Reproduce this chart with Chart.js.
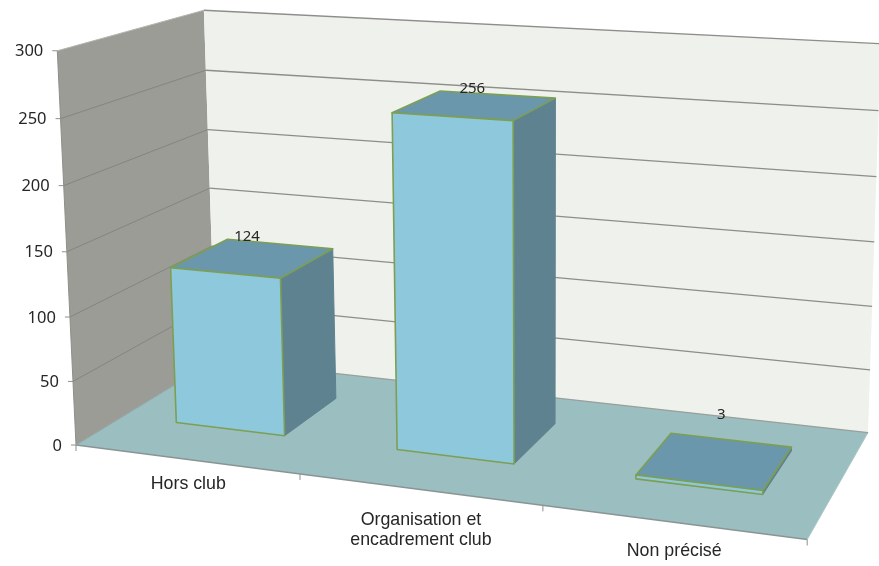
<!DOCTYPE html>
<html><head><meta charset="utf-8">
<style>html,body{margin:0;padding:0;background:#fff}canvas{display:block;filter:blur(0.45px)}</style>
<script src="https://cdn.jsdelivr.net/npm/chart.js@4"></script></head>
<body><canvas id="c" width="879" height="566"></canvas>
<script>
const categories = ["Hors club", ["Organisation et", "encadrement club"], "Non précisé"];
const values = [124, 256, 3];
const yTicks = {min: 0, max: 300, stepSize: 50};

// camera calibration: unit box corner (x, y, z) -> canvas pixel
const cameraWorld = [[0,0,0],[1,0,0],[0,1,0],[0,0,1],[1,0,1],[0,1,1],[1,1,1]];
const cameraImage = [[78,442],[808,541],[54.5,52.5],[213,363],[868,431],[207,8.5],[880,44]];
const barDepth = [0.315, 0.735];
const catLabelDx = [2.5, 2, 2], catLabelDy = [16, 22, 20];
const valLabelDx = [-6, -3, 6], valLabelDy = [-21, -17, -46];

const colors = {leftWall:'#9c9c96', backWall:'#eff1ec', floor:'#9bbfc0', grid:'#8d8d8a', gridLeft:'#858580',
  edge:'#8a9494', front:'#8ec8dc', side:'#5f8290', top:'#6a97ab', border:'#7d9f52', text:'#262626', tick:'#909090'};

function solve(A, b) {
  const n = b.length, M = A.map((r, i) => [...r, b[i]]);
  for (let i = 0; i < n; i++) {
    let p = i;
    for (let k = i + 1; k < n; k++) if (Math.abs(M[k][i]) > Math.abs(M[p][i])) p = k;
    [M[i], M[p]] = [M[p], M[i]];
    for (let k = i + 1; k < n; k++) {
      const f = M[k][i] / M[i][i];
      for (let j = i; j <= n; j++) M[k][j] -= f * M[i][j];
    }
  }
  const x = new Array(n);
  for (let i = n - 1; i >= 0; i--) {
    let s = M[i][n];
    for (let j = i + 1; j < n; j++) s -= M[i][j] * x[j];
    x[i] = s / M[i][i];
  }
  return x;
}
function fitCamera() {
  const rows = [], rhs = [];
  cameraWorld.forEach(([X, Y, Z], i) => {
    const u = cameraImage[i][0] / 1000, v = cameraImage[i][1] / 1000;
    rows.push([X,Y,Z,1,0,0,0,0,-u*X,-u*Y,-u*Z]); rhs.push(u);
    rows.push([0,0,0,0,X,Y,Z,1,-v*X,-v*Y,-v*Z]); rhs.push(v);
  });
  const n = 11, A = [], b = [];
  for (let i = 0; i < n; i++) {
    A.push([]);
    for (let j = 0; j < n; j++) A[i].push(rows.reduce((s, r) => s + r[i] * r[j], 0));
    b.push(rows.reduce((s, r, k) => s + r[i] * rhs[k], 0));
  }
  return solve(A, b);
}
const P = fitCamera();
function project(X, Y, Z) {
  const w = P[8]*X + P[9]*Y + P[10]*Z + 1;
  return [1000*(P[0]*X + P[1]*Y + P[2]*Z + P[3]) / w, 1000*(P[4]*X + P[5]*Y + P[6]*Z + P[7]) / w];
}
function poly(ctx, pts, fill, stroke, lw) {
  ctx.beginPath();
  pts.forEach((p, i) => { const q = project(...p); i ? ctx.lineTo(q[0], q[1]) : ctx.moveTo(q[0], q[1]); });
  ctx.closePath();
  if (fill) { ctx.fillStyle = fill; ctx.fill(); }
  if (stroke) { ctx.strokeStyle = stroke; ctx.lineWidth = lw; ctx.lineJoin = 'round'; ctx.stroke(); }
}
function line(ctx, a, b, color, lw) {
  const p = project(...a), q = project(...b);
  ctx.beginPath(); ctx.moveTo(p[0], p[1]); ctx.lineTo(q[0], q[1]);
  ctx.strokeStyle = color; ctx.lineWidth = lw; ctx.stroke();
}

const box3d = {
  id: 'box3d',
  beforeDatasetsDraw(chart) {
    const ctx = chart.ctx, yS = chart.scales.y, a = chart.chartArea;
    const yn = v => (yS.getPixelForValue(0) - yS.getPixelForValue(v)) / a.height;
    ctx.save();
    ctx.fillStyle = '#fff'; ctx.fillRect(0, 0, chart.width, chart.height);
    poly(ctx, [[0,0,0],[0,1,0],[0,1,1],[0,0,1]], colors.leftWall);
    poly(ctx, [[0,0,1],[0,1,1],[1,1,1],[1,0,1]], colors.backWall);
    poly(ctx, [[0,0,0],[1,0,0],[1,0,1],[0,0,1]], colors.floor);
    yS.ticks.forEach(t => {
      const y = yn(t.value);
      if (t.value > 0) {
        line(ctx, [0,y,0], [0,y,1], t.value === yS.max ? '#b5b5b0' : colors.gridLeft, 1);
        line(ctx, [0,y,1], [1,y,1], colors.grid, 1.3);
      }
      const p = project(0, y, 0);
      ctx.strokeStyle = colors.tick; ctx.lineWidth = 1;
      ctx.beginPath(); ctx.moveTo(p[0] - 5, p[1]); ctx.lineTo(p[0], p[1]); ctx.stroke();
      ctx.fillStyle = colors.text; ctx.font = '16.5px "Noto Sans"';
      ctx.textAlign = 'right'; ctx.textBaseline = 'middle';
      ctx.fillText(t.label, p[0] - 14, p[1] + 1);
    });
    line(ctx, [0,0,0], [0,1,0], '#8f8f8a', 1);
    line(ctx, [0,0,0], [1,0,0], colors.edge, 1.5);
    line(ctx, [0,0,0], [0,0,1], '#8fa5a5', 1);
    line(ctx, [1,0,0], [1,0,1], '#a9c6c6', 1);
    line(ctx, [0,0,1], [1,0,1], '#9a9f9d', 1.2);
    ctx.restore();
  },
  beforeDatasetDraw() { return false; },
  afterDatasetsDraw(chart) {
    const ctx = chart.ctx, a = chart.chartArea, xS = chart.scales.x, yS = chart.scales.y;
    const base = yS.getPixelForValue(0);
    const [z0, z1] = barDepth;
    const xn = px => (px - a.left) / a.width;
    ctx.save();
    xS.ticks.forEach((t, i) => {
      const X0 = xn(xS.getPixelForTick(i));
      const p = project(X0, 0, 0);
      ctx.fillStyle = colors.text; ctx.font = '17.8px "Liberation Sans"';
      ctx.textAlign = 'center'; ctx.textBaseline = 'top';
      [].concat(t.label).forEach((s, k) => ctx.fillText(s, p[0] + catLabelDx[i], p[1] + catLabelDy[i] + k * 19.5));
    });
    for (let k = 0; k <= xS.ticks.length; k++) {
      const p = project(k / xS.ticks.length, 0, 0);
      ctx.strokeStyle = colors.tick; ctx.lineWidth = 1;
      ctx.beginPath(); ctx.moveTo(p[0], p[1]); ctx.lineTo(p[0], p[1] + 6); ctx.stroke();
    }
    const meta = chart.getDatasetMeta(0);
    meta.data.forEach((bar, i) => {
      const x0 = xn(bar.x - bar.width / 2), x1 = xn(bar.x + bar.width / 2);
      const y = (base - bar.y) / a.height;
      const c = colors, lw = 1.6;
      poly(ctx, [[x1,0,z0],[x1,y,z0],[x1,y,z1],[x1,0,z1]], c.side, c.side, 1);
      poly(ctx, [[x0,y,z0],[x1,y,z0],[x1,y,z1],[x0,y,z1]], c.top, c.border, lw);
      poly(ctx, [[x0,0,z0],[x1,0,z0],[x1,y,z0],[x0,y,z0]], c.front, c.border, lw);
      const p = project((x0 + x1) / 2, y, (z0 + z1) / 2);
      ctx.fillStyle = c.text; ctx.font = '15px "Noto Sans"';
      ctx.textAlign = 'center'; ctx.textBaseline = 'middle';
      ctx.fillText(String(values[i]), p[0] + valLabelDx[i], p[1] + valLabelDy[i]);
    });
    ctx.restore();
  }
};

new Chart(document.getElementById('c'), {
  type: 'bar',
  data: {labels: categories, datasets: [{data: values, backgroundColor: colors.front, borderColor: colors.border,
    barPercentage: 0.5, categoryPercentage: 1}]},
  options: {
    responsive: false, animation: false, devicePixelRatio: 1,
    layout: {padding: 0},
    plugins: {legend: {display: false}, tooltip: {enabled: false}},
    scales: {
      x: {display: false, offset: true},
      y: {display: false, min: yTicks.min, max: yTicks.max, ticks: {stepSize: yTicks.stepSize}}
    }
  },
  plugins: [box3d]
});
</script></body></html>
